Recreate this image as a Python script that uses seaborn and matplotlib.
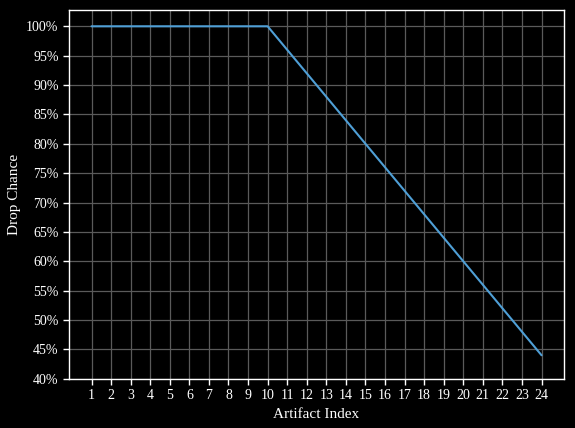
import numpy as np
import matplotlib
matplotlib.use('Agg')
import matplotlib.pyplot as plt
import matplotlib.ticker as mticker
import pandas as pd
import seaborn as sns

artifact_index = list(range(1, 25))
drop_chance = [100, 100, 100, 100, 100, 100, 100, 100, 100, 100,
               96, 92, 88, 84, 80, 76, 72, 68, 64, 60, 56, 52, 48, 44]

df = pd.DataFrame({'Artifact Index': artifact_index, 'Drop Chance': drop_chance})

sns.set_theme(style="darkgrid")
plt.rcParams['font.family'] = ['Liberation Serif', 'DejaVu Serif']
plt.rcParams.update({
    'figure.facecolor': 'black',
    'axes.facecolor': 'black',
    'axes.edgecolor': 'white',
    'axes.labelcolor': 'white',
    'xtick.color': 'white',
    'ytick.color': 'white',
    'text.color': 'white',
    'grid.color': '#5a5a5a',
    'xtick.bottom': True,
    'ytick.left': True,
})

fig, ax = plt.subplots(figsize=(5.75, 4.28), dpi=100)
fig.subplots_adjust(left=0.12, right=0.981, top=0.977, bottom=0.115)

sns.lineplot(data=df, x='Artifact Index', y='Drop Chance', color='#4f9fd6', linewidth=1.5, ax=ax)

ax.set_ylim(bottom=40)
ax.set_xticks(artifact_index)
ax.yaxis.set_major_locator(mticker.MultipleLocator(5))
ax.yaxis.set_major_formatter(mticker.FuncFormatter(lambda v, p: f'{v:.0f}%'))
ax.tick_params(labelsize=10, length=4, width=1, colors='white')
ax.grid(True, color='#5a5a5a', linewidth=0.9)
for s in ax.spines.values():
    s.set_color('white')
    s.set_linewidth(1)
ax.set_xlabel('Artifact Index', fontsize=11)
ax.set_ylabel('Drop Chance', fontsize=11)

plt.savefig('out.png', dpi=100, facecolor='black')
